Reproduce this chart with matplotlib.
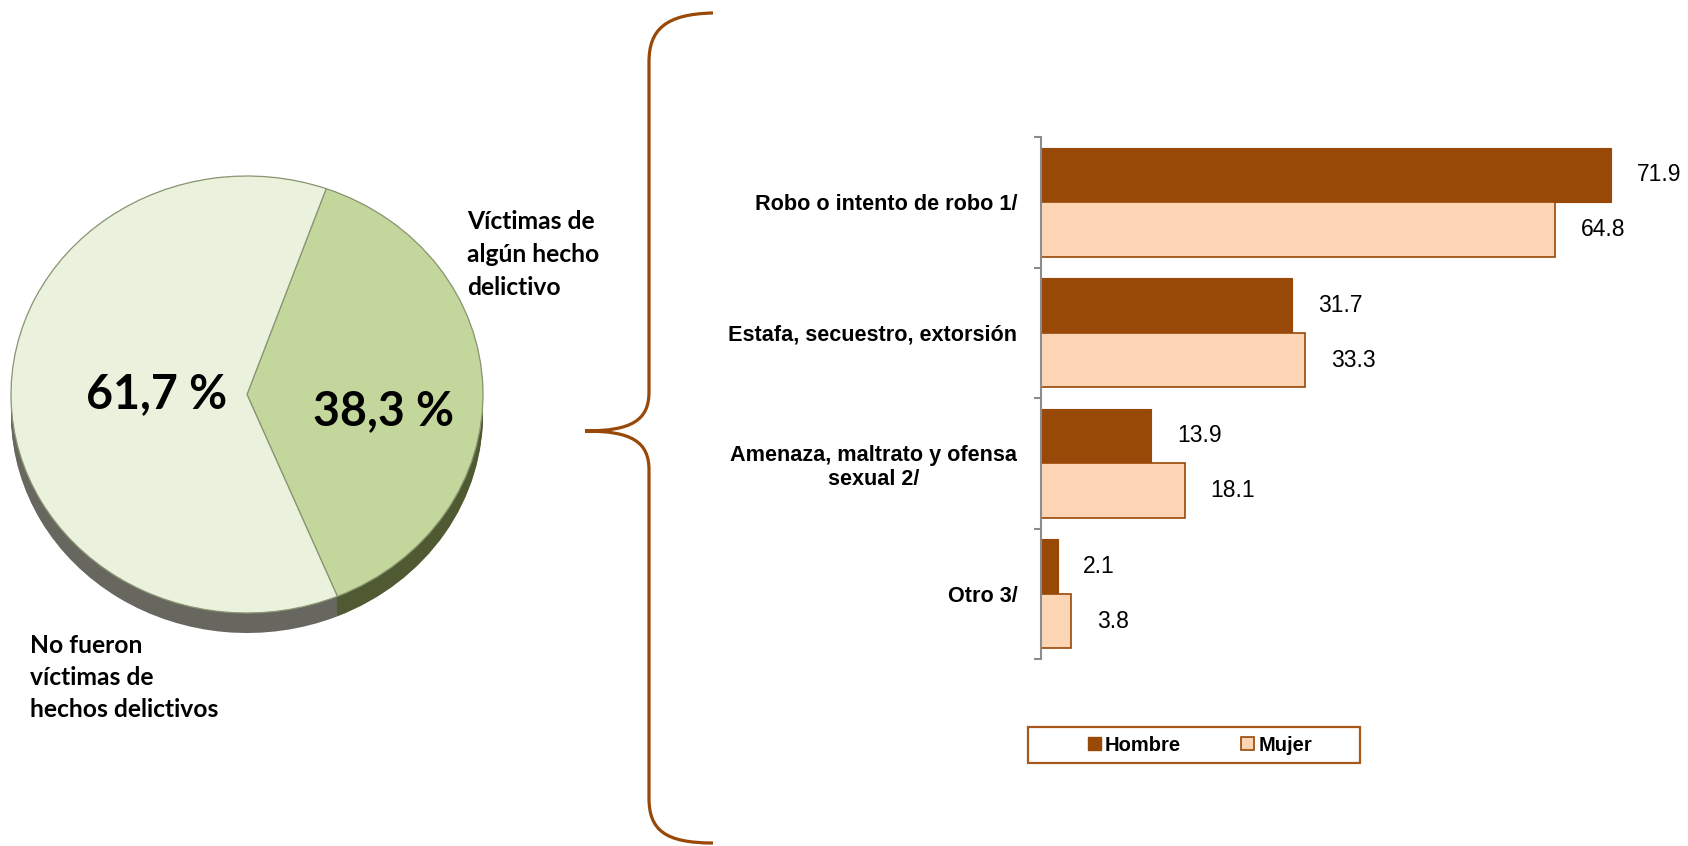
import matplotlib
matplotlib.use('Agg')
import matplotlib.pyplot as plt
import numpy as np
from matplotlib.path import Path
from matplotlib.patches import PathPatch, Rectangle, Patch

# pie data
pie_labels = ['Víctimas de\nalgún hecho\ndelictivo', 'No fueron\nvíctimas de\nhechos delictivos']
pie_values = [38.3, 61.7]

# bar data
categories = ['Robo o intento de robo 1/', 'Estafa, secuestro, extorsión',
              'Amenaza, maltrato y ofensa\nsexual 2/', 'Otro 3/']
hombre = [71.9, 31.7, 13.9, 2.1]
mujer = [64.8, 33.3, 18.1, 3.8]
series_names = ['Hombre', 'Mujer']

W, H = 1688, 846
fig = plt.figure(figsize=(W / 100, H / 100), dpi=100)

def fx(px):
    return px / W

def fy(py):
    return 1 - py / H

# overlay in pixel coords (brace, free texts)
ov = fig.add_axes([0, 0, 1, 1])
ov.set_xlim(0, W)
ov.set_ylim(H, 0)
ov.axis('off')

brace_col = '#984807'
verts = [(713, 13), (665, 14), (649, 30), (649, 62),
         (649, 392),
         (649, 420), (632, 431), (585, 431),
         (632, 431), (649, 442), (649, 470),
         (649, 798),
         (649, 830), (665, 843), (713, 843)]
codes = [Path.MOVETO, Path.CURVE4, Path.CURVE4, Path.CURVE4,
         Path.LINETO,
         Path.CURVE4, Path.CURVE4, Path.CURVE4,
         Path.CURVE4, Path.CURVE4, Path.CURVE4,
         Path.LINETO,
         Path.CURVE4, Path.CURVE4, Path.CURVE4]
ov.add_patch(PathPatch(Path(verts, codes), facecolor='none', edgecolor=brace_col, lw=2.3))

# pie labels
lab_font = dict(family=['Lato', 'DejaVu Sans'], weight='bold', fontsize=17.7, color='black')
ov.text(467, 210, pie_labels[0], ha='left', va='top', linespacing=1.52, **lab_font)
ov.text(30, 634, pie_labels[1], ha='left', va='top', linespacing=1.47, **lab_font)

# legend frame
ov.add_patch(Rectangle((1028, 727), 332, 36, facecolor='white', edgecolor='#A8581C', lw=1.6))

# ---- pie (tilted, with depth) ----
cx, cy, rx, ry = 247, 394.5, 236, 218.5
px0, px1, py0, py1 = 0, 500, 140, 660
axp = fig.add_axes([fx(px0), fy(py1), fx(px1 - px0), (py1 - py0) / H])
pie_cols = ['#C3D69B', '#EAF1DD']
rim_cols = ['#4F5A32', '#67675F']
depth = 20 / ry
for off in np.linspace(-depth, 0, 12):
    axp.pie(pie_values, colors=rim_cols, startangle=70.4, counterclock=False,
            center=(0, off), wedgeprops=dict(linewidth=0))
wedges, _ = axp.pie(pie_values, colors=pie_cols, startangle=70.4, counterclock=False,
                    wedgeprops=dict(edgecolor='#8A9572', linewidth=0.9))
axp.set_aspect('auto')
axp.set_xlim((px0 - cx) / rx, (px1 - cx) / rx)
axp.set_ylim((cy - py1) / ry, (cy - py0) / ry)
axp.axis('off')

pct_font = dict(family=['Lato', 'DejaVu Sans'], weight='bold', fontsize=33.5, color='black',
                ha='center', va='center')
axp.text(0.577, -0.078, f'{pie_values[0]:.1f} %'.replace('.', ','), **pct_font)
axp.text(-0.382, 0.0, f'{pie_values[1]:.1f} %'.replace('.', ','), **pct_font)

# ---- bars ----
top, bot, left = 137, 659, 1041
axb = fig.add_axes([fx(left), fy(bot), fx(W - left), (bot - top) / H])
y = np.arange(len(categories))
bh = 0.418
bars_h = axb.barh(y - bh / 2, hombre, height=bh, color='#984807', edgecolor='#984807', lw=0.8)
bars_m = axb.barh(y + bh / 2, mujer, height=bh, color='#FCD5B5', edgecolor='#984807', lw=1.2)
axb.set_xlim(0, (W - left) / 7.93)
axb.set_ylim(len(categories) - 0.5, -0.5)

val_font = dict(family=['Liberation Sans', 'DejaVu Sans'], fontsize=16.5, color='black')
for bars, vals in ((bars_h, hombre), (bars_m, mujer)):
    for b, v in zip(bars, vals):
        axb.annotate(f'{v:.1f}', (v, b.get_y() + b.get_height() / 2), xytext=(18.5, 0),
                     textcoords='offset points', ha='left', va='center', **val_font)

for s in ['top', 'right', 'bottom']:
    axb.spines[s].set_visible(False)
axb.spines['left'].set_color('#8C8C8C')
axb.spines['left'].set_linewidth(1.5)
axb.set_xticks([])
axb.set_yticks(np.arange(-0.5, len(categories)), [''] * (len(categories) + 1))
axb.tick_params(axis='y', which='major', direction='out', length=5, width=1.5, color='#8C8C8C')
axb.set_yticks(y, categories, minor=True)
axb.tick_params(axis='y', which='minor', length=0, pad=17)
for t in axb.get_yticklabels(minor=True):
    t.set_fontfamily(['Liberation Sans', 'DejaVu Sans'])
    t.set_fontweight('bold')
    t.set_fontsize(15.6)
    t.set_multialignment('center')
axb.patch.set_alpha(0)

# legend
handles = [Patch(facecolor='#984807', edgecolor='#984807'),
           Patch(facecolor='#FCD5B5', edgecolor='#984807', lw=1.2)]
fig.legend(handles, series_names, loc='center', bbox_to_anchor=(fx(1200), fy(745)),
           ncol=2, frameon=False, handlelength=0.65, handleheight=0.65, handletextpad=0.2,
           columnspacing=3.0, prop=dict(family=['Liberation Sans', 'DejaVu Sans'],
                                        weight='bold', size=14.5))

fig.savefig('out.png', dpi=100, facecolor='white')
